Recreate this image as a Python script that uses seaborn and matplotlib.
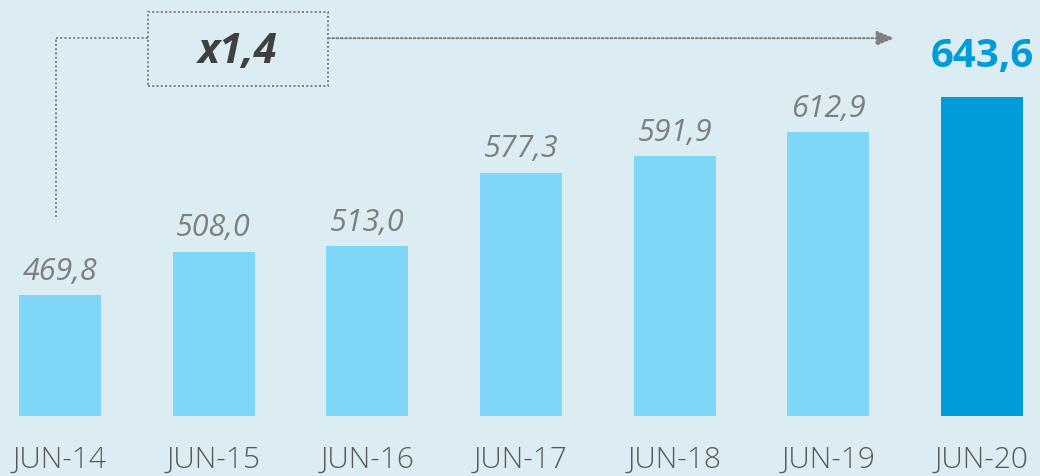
import matplotlib
matplotlib.use("Agg")
import matplotlib.pyplot as plt
import seaborn as sns
from matplotlib.patches import Rectangle

# -----------------------------
# Data
# -----------------------------
months = ["JUN-14", "JUN-15", "JUN-16", "JUN-17", "JUN-18", "JUN-19", "JUN-20"]
values = [469.8, 508.0, 513.0, 577.3, 591.9, 612.9, 643.6]
labels = ["469,8", "508,0", "513,0", "577,3", "591,9", "612,9", "643,6"]
growth_label = "x1,4"

BG = "#dbedf3"
LIGHT = "#7fd6f7"
DARK = "#009bd9"
GREY = "#7f7f7f"

sns.set_style("white")
plt.rcParams["font.family"] = ["Open Sans", "DejaVu Sans"]

fig = plt.figure(figsize=(10.4, 4.77), dpi=100, facecolor=BG)
ax = fig.add_axes([0, 60 / 477, 1, 417 / 477])
ax.set_facecolor(BG)

palette = [LIGHT] * (len(months) - 1) + [DARK]
sns.barplot(x=months, y=values, hue=months, palette=palette,
            legend=False, width=0.534, ax=ax, saturation=1, linewidth=0)

ax.set_ylim(364, 730)
ax.set_xlim(-0.39, 6.377)
for s in ax.spines.values():
    s.set_visible(False)
ax.set_yticks([])
ax.set_xlabel("")
ax.set_ylabel("")
ax.tick_params(axis="x", length=0, pad=20, labelsize=21.5, labelcolor="#595959")
for t in ax.get_xticklabels():
    t.set_fontweight("light")

# value labels
for i, (v, lab) in enumerate(zip(values, labels)):
    if i == len(values) - 1:
        ax.annotate(lab, (i, v), xytext=(0, 16), textcoords="offset points",
                    ha="center", va="bottom", fontsize=29, fontweight="bold",
                    color=DARK)
    else:
        ax.annotate(lab, (i, v), xytext=(0, 7), textcoords="offset points",
                    ha="center", va="bottom", fontsize=22, style="italic",
                    color=GREY)

# growth annotation
tr = ax.get_xaxis_transform()
dots = dict(color=GREY, lw=1.4, ls=(0, (1, 1.2)))
ax.plot([-0.026, -0.026], [0.477, 0.906], transform=tr, **dots)
ax.plot([-0.026, 0.573], [0.906, 0.906], transform=tr, **dots)
ax.annotate("", xy=(5.43, 0.906), xytext=(1.744, 0.906),
            xycoords=tr, textcoords=tr,
            arrowprops=dict(arrowstyle="-|>,head_length=1.1,head_width=0.45",
                            color=GREY, lw=1.4, ls=(0, (1, 1.2)),
                            shrinkA=0, shrinkB=0))
ax.add_patch(Rectangle((0.573, 0.791), 1.171, 0.178, transform=tr,
                       fill=False, ec=GREY, lw=1.4, ls=(0, (1, 1.2))))
ax.text(1.15, 0.875, growth_label, transform=tr, ha="center", va="center",
        fontsize=30, fontweight="bold", style="italic", color="#404040")

plt.savefig("out.png", dpi=100, facecolor=BG)
